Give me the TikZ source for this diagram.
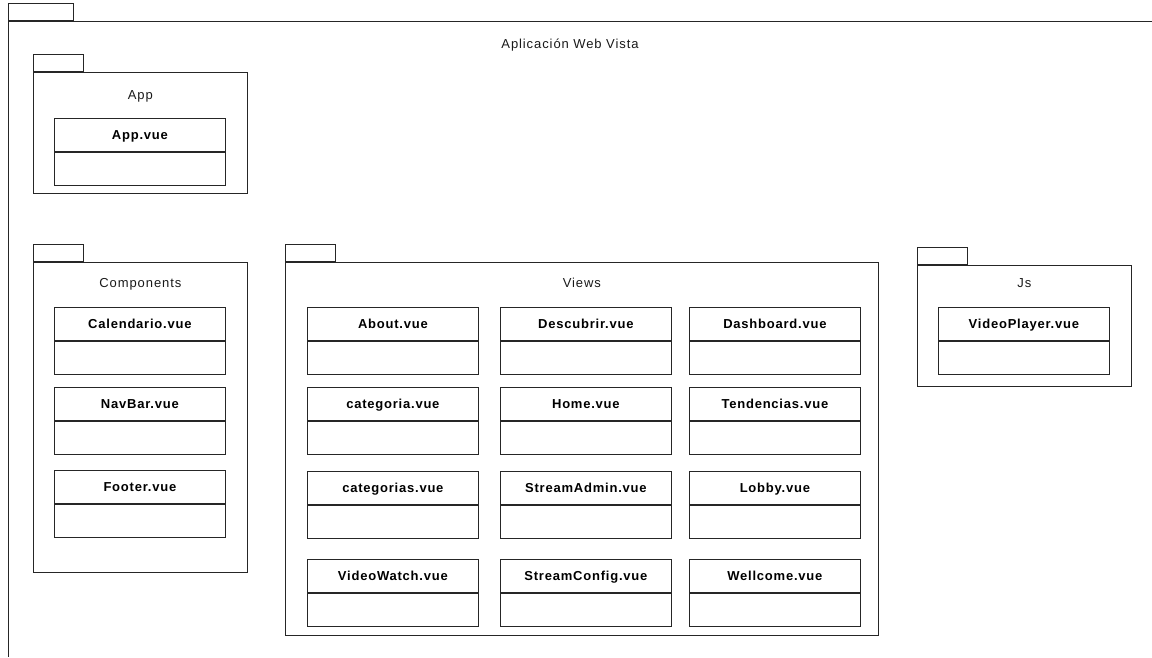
\documentclass[tikz,border=0pt]{standalone}
\usepackage{fontspec}
\setmainfont{Liberation Sans}
\newfontfamily\pkgfont[LetterSpace=7]{Liberation Sans}
\newfontfamily\clsfont[LetterSpace=6]{Liberation Sans Bold}
\begin{document}
\begin{tikzpicture}[x=1pt,y=-1pt,
  line/.style={draw=black!85, line width=0.8pt},
  tab/.style={line, rectangle, inner sep=0pt, anchor=south west, minimum width=50pt, minimum height=17.5pt},
  pkg/.style={line, rectangle, inner sep=0pt, anchor=north west},
  pkglabel/.style={font=\pkgfont\fontsize{13}{15}\selectfont, text=black!90, inner sep=0pt, text height=9.3pt, text depth=0pt},
  clshead/.style={line, rectangle, inner sep=0pt, anchor=north west, minimum width=171pt, minimum height=33pt, font=\clsfont\fontsize{13}{15}\selectfont, text height=9.3pt, text depth=0pt},
  clsbody/.style={line, rectangle, inner sep=0pt, anchor=north, minimum width=171pt, minimum height=33pt}
]
\useasboundingbox (0,0) rectangle (1152,657);
\newcommand\clsbox[4]{%
  \node[clshead] (#1) at (#2,#3) {#4};
  \node[clsbody] (#1b) at (#1.south) {};}
\newcommand\pkgbox[7]{% name, x, y(top of body), w, h, label, label offset
  \node[pkg, minimum width=#4pt, minimum height=#5pt] (#1) at (#2,#3) {};
  \node[tab] (#1tab) at (#1.north west) {};
  \node[pkglabel] (#1lbl) at ([yshift=-#7pt]#1.north) {#6};}
% outer package
\node[tab, minimum width=65pt, minimum height=17pt] (outertab) at (8,21) {};
\coordinate (otr) at (1152,21);
\coordinate (obl) at (8,657);
\draw[line] (otr) -- (outertab.south west) -- (obl);
\node[pkglabel] (title) at (570,44) {Aplicación Web Vista};
% App
\pkgbox{app}{33}{72}{214}{121}{App}{22.5}
\clsbox{appvue}{54}{118}{App.vue}
% Components
\pkgbox{comp}{33}{262}{214}{310}{Components}{20.5}
\clsbox{calendario}{54}{307}{Calendario.vue}
\clsbox{navbar}{54}{387}{NavBar.vue}
\clsbox{footer}{54}{470}{Footer.vue}
% Views
\pkgbox{views}{285}{262}{593}{373}{Views}{20.5}
\clsbox{about}{307}{307}{About.vue}
\clsbox{descubrir}{500}{307}{Descubrir.vue}
\clsbox{dashboard}{689}{307}{Dashboard.vue}
\clsbox{categoria}{307}{387}{categoria.vue}
\clsbox{home}{500}{387}{Home.vue}
\clsbox{tendencias}{689}{387}{Tendencias.vue}
\clsbox{categorias}{307}{471}{categorias.vue}
\clsbox{streamadmin}{500}{471}{StreamAdmin.vue}
\clsbox{lobby}{689}{471}{Lobby.vue}
\clsbox{videowatch}{307}{559}{VideoWatch.vue}
\clsbox{streamconfig}{500}{559}{StreamConfig.vue}
\clsbox{wellcome}{689}{559}{Wellcome.vue}
% Js
\pkgbox{js}{917}{265}{214}{121}{Js}{18}
\clsbox{videoplayer}{938}{307}{VideoPlayer.vue}
\end{tikzpicture}
\end{document}
